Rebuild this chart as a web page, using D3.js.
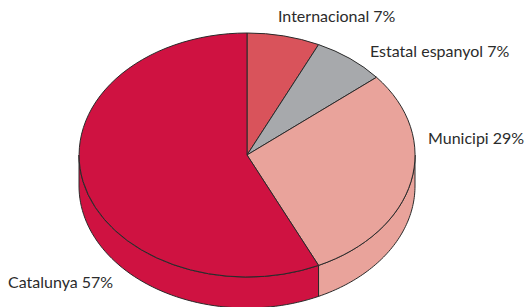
<!DOCTYPE html>
<html>
<head>
<meta charset="utf-8">
<script src="https://cdn.jsdelivr.net/npm/d3@7"></script>
<style>
  html, body { margin: 0; padding: 0; background: #fff; }
  svg { display: block; }
</style>
</head>
<body>
<svg id="chart" width="526" height="307"></svg>
<script>
// Slices, clockwise from 12 o'clock
const categories = ["Internacional", "Estatal espanyol", "Municipi", "Catalunya"];
const values = [7, 7, 29, 57];
const colors = ["#d9535b", "#a7a9ac", "#e9a39b", "#cf1241"];

const width = 526, height = 307;
const cx = 247, cy = 155;     // centre of the top face
const rx = 168, ry = 122;     // ellipse radii of the top face
const depth = 31;             // thickness of the disc

const svg = d3.select("#chart");

const pie = d3.pie().sort(null).value((d) => d.value);
const arcs = pie(categories.map((c, i) => ({ name: c, value: values[i], color: colors[i] })));

// point on the ellipse, angle measured clockwise from top (same as d3.arc)
const px = (a) => cx + rx * Math.sin(a);
const py = (a, dz = 0) => cy - ry * Math.cos(a) + dz;

// Side walls: only the front half (PI/2 .. 3PI/2) is visible
const sideG = svg.append("g");
arcs.forEach((d) => {
    const a0 = Math.max(d.startAngle, Math.PI / 2);
    const a1 = Math.min(d.endAngle, Math.PI * 1.5);
    if (a1 <= a0) return;
    const steps = d3.range(0, 61).map((k) => a0 + (a1 - a0) * k / 60);
    const pts = steps.map((a) => [px(a), py(a)])
        .concat(steps.slice().reverse().map((a) => [px(a), py(a, depth)]));
    sideG.append("path")
        .attr("d", d3.line()(pts) + "Z")
        .attr("fill", d.data.color)
        .attr("stroke", "#2a2a2a")
        .attr("stroke-width", 1)
        .attr("stroke-linejoin", "round");
});

// Top face: unit pie squashed into an ellipse
const arc = d3.arc().innerRadius(0).outerRadius(1);
const topG = svg.append("g")
    .attr("transform", `translate(${cx},${cy}) scale(${rx},${ry})`);
topG.selectAll("path")
    .data(arcs)
    .join("path")
    .attr("d", arc)
    .attr("fill", (d) => d.data.color)
    .attr("stroke", "#2a2a2a")
    .attr("stroke-width", 1)
    .attr("stroke-linejoin", "round")
    .attr("vector-effect", "non-scaling-stroke");

// Labels
const labelPos = [
    { x: 278, y: 22 },
    { x: 370, y: 57 },
    { x: 428, y: 144 },
    { x: 8, y: 288 },
];
svg.append("g")
    .selectAll("text")
    .data(arcs)
    .join("text")
    .attr("x", (d, i) => labelPos[i].x)
    .attr("y", (d, i) => labelPos[i].y)
    .style("font-family", "Lato, 'Open Sans', sans-serif")
    .style("font-size", "16px")
    .style("fill", "#2b2b2b")
    .text((d) => `${d.data.name} ${d.data.value}%`);
</script>
</body>
</html>
